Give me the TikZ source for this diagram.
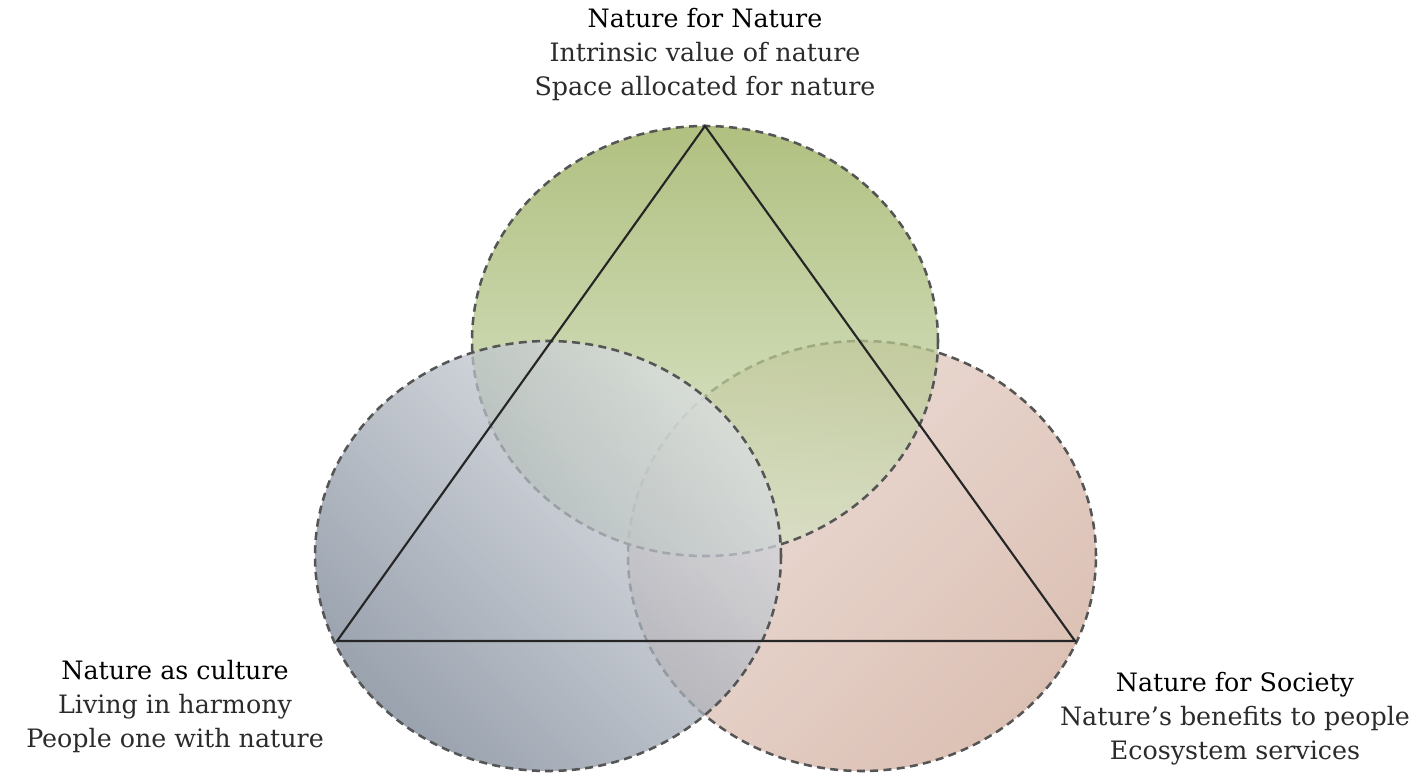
\documentclass[tikz,border=0pt]{standalone}
\usepackage{fontspec}
\setmainfont{DejaVu Serif}
\usepackage{tikz}
\definecolor{greentop}{HTML}{96AB56}
\definecolor{greenbot}{HTML}{D6E3C6}
\definecolor{greydark}{HTML}{788393}
\definecolor{greylight}{HTML}{DBDEE3}
\definecolor{roselight}{HTML}{E6D3CB}
\definecolor{rosedark}{HTML}{D0AB9B}
\definecolor{rimgrey}{HTML}{555555}
\definecolor{textgrey}{HTML}{2B2B2B}
\tikzset{
	rimstyle/.style={draw=rimgrey,line width=1.9pt,dash pattern=on 6pt off 4pt,fill opacity=0.75},
	edgestyle/.style={draw=black!85,line width=1.6pt,line join=miter},
	labelstyle/.style={align=center,font=\fontsize{19}{25.5}\selectfont,text=textgrey,inner sep=0pt}
}
\newcommand{\headline}[1]{{\color{black}#1}}
\begin{document}
\begin{tikzpicture}[x=0.75pt,y=0.75pt]
		\useasboundingbox (0,0) rectangle (1420,776);
		% circles, back to front
		\shadedraw[rimstyle,top color=roselight,bottom color=rosedark,shading angle=45] (862,220) ellipse [x radius=234,y radius=215];
		\shadedraw[rimstyle,top color=greentop,bottom color=greenbot] (705,435) ellipse [x radius=233,y radius=215];
		\shadedraw[rimstyle,top color=greylight,bottom color=greydark,shading angle=-45] (548,220) ellipse [x radius=233,y radius=215];
		% triangle
		\coordinate (top) at (705,650);
		\coordinate (left) at (337,135);
		\coordinate (right) at (1075,135);
		\draw[edgestyle] (top)--(left)--(right)--cycle;
		% labels
		\node[labelstyle,anchor=north] (nature) at (705,768) {\headline{Nature for Nature}\\Intrinsic value of nature\\Space allocated for nature};
		\node[labelstyle,anchor=north] (culture) at (175,116) {\headline{Nature as culture}\\Living in harmony\\People one with nature};
		\node[labelstyle,anchor=north] (society) at (1235,104) {\headline{Nature for Society}\\Nature’s benefits to people\\Ecosystem services};
\end{tikzpicture}
\end{document}
